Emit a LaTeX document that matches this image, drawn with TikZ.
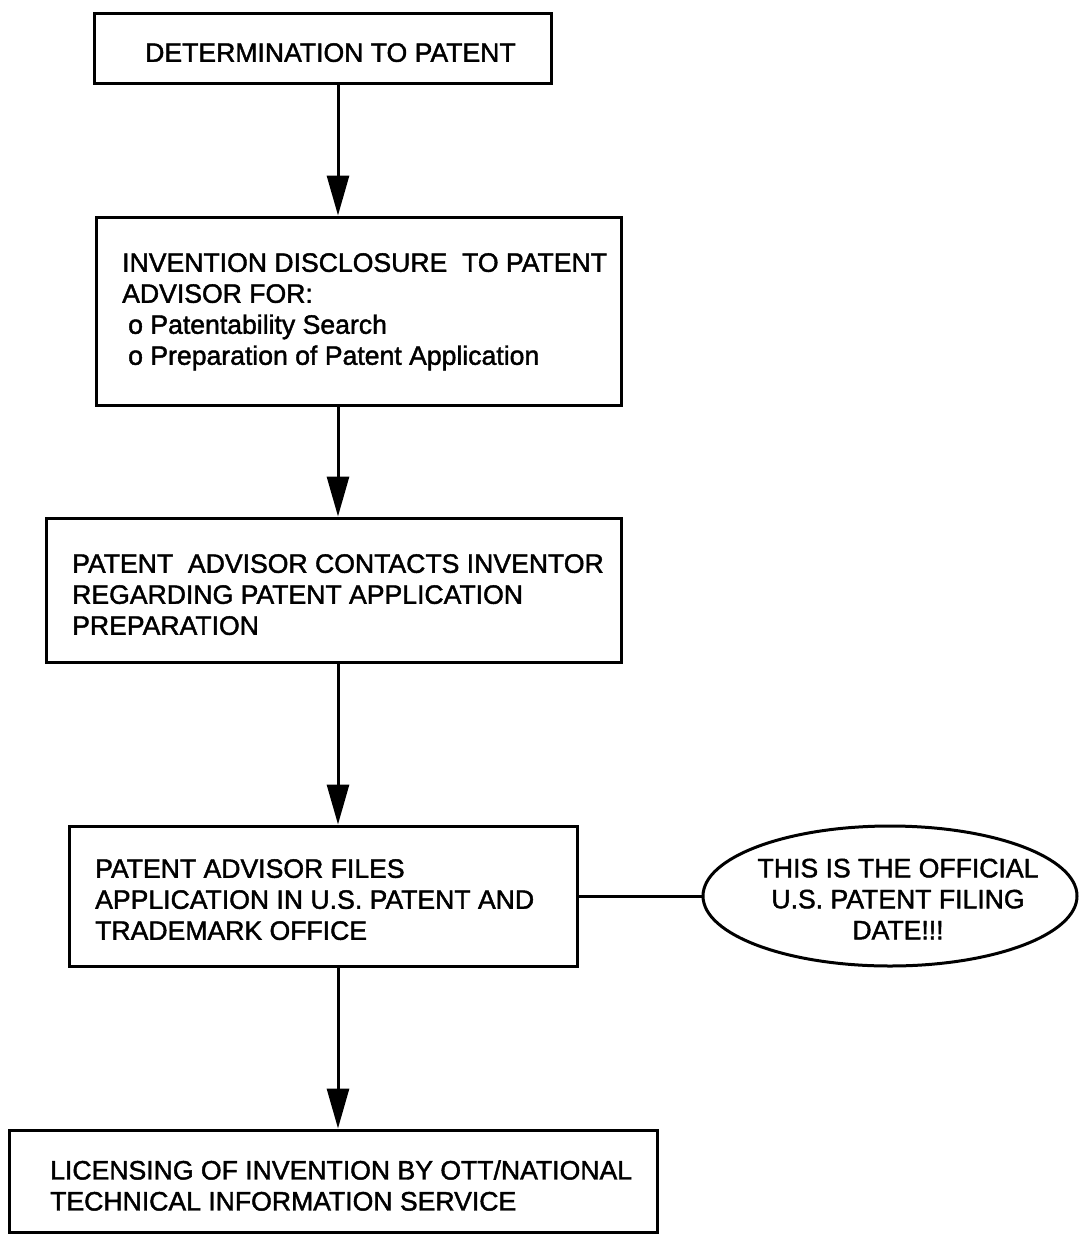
\documentclass[tikz,border=0pt]{standalone}
\usepackage{fontspec}
\setmainfont[FakeBold=1.6]{Liberation Sans}
\usetikzlibrary{arrows.meta,shapes.geometric}
\begin{document}
\begin{tikzpicture}[x=1pt,y=-1pt,
  stepbox/.style={draw,line width=3pt,rectangle,inner sep=0pt},
  label/.style={anchor=north west,inner sep=0pt,align=left,
    font=\fontsize{26.6}{31}\selectfont},
  flow/.style={line width=3pt,-{Triangle[length=40pt,width=22pt]}},
  link/.style={line width=3pt}]
\useasboundingbox (0,0) rectangle (1081,1234);

% process boxes
\node[stepbox,minimum width=457pt,minimum height=70pt]  (b1) at (322.5,48) {};
\node[stepbox,minimum width=525pt,minimum height=188pt] (b2) at (358.5,311) {};
\node[stepbox,minimum width=575pt,minimum height=144pt] (b3) at (333.5,590) {};
\node[stepbox,minimum width=508pt,minimum height=140pt] (b4) at (323,896) {};
\node[stepbox,minimum width=648pt,minimum height=102pt] (b5) at (333,1181) {};

% filing-date note
\node[draw,line width=3pt,ellipse,inner sep=0pt,minimum width=374pt,
  minimum height=140pt] (note) at (890,896) {};
\node[align=center,inner sep=0pt,font=\fontsize{26.6}{31}\selectfont]
  (notetext) at (898,899) {THIS IS THE OFFICIAL\\U.S. PATENT FILING\\DATE!!!};

% box texts
\node[label] (t1) at (145,43) {DETERMINATION TO PATENT};
\node[label] (t2) at (122,253) {INVENTION DISCLOSURE \ TO PATENT\\ADVISOR FOR:\\
  \hspace*{6pt}o Patentability Search\\\hspace*{6pt}o Preparation of Patent Application};
\node[label] (t3) at (72,554) {PATENT \ ADVISOR CONTACTS INVENTOR\\REGARDING PATENT APPLICATION\\PREPARATION};
\node[label] (t4) at (95,859) {PATENT ADVISOR FILES\\APPLICATION IN U.S. PATENT AND\\TRADEMARK OFFICE};
\node[label] (t5) at (50,1160) {LICENSING OF INVENTION BY OTT/NATIONAL\\TECHNICAL INFORMATION SERVICE};

% connectors
\coordinate (spine) at (338,0);
\draw[flow] (b1.south -| spine) -- (b2.north -| spine);
\draw[flow] (b2.south -| spine) -- (b3.north -| spine);
\draw[flow] (b3.south -| spine) -- (b4.north -| spine);
\draw[flow] (b4.south -| spine) -- (b5.north -| spine);
\draw[link] (b4.east) -- (note.west);
\end{tikzpicture}
\end{document}
